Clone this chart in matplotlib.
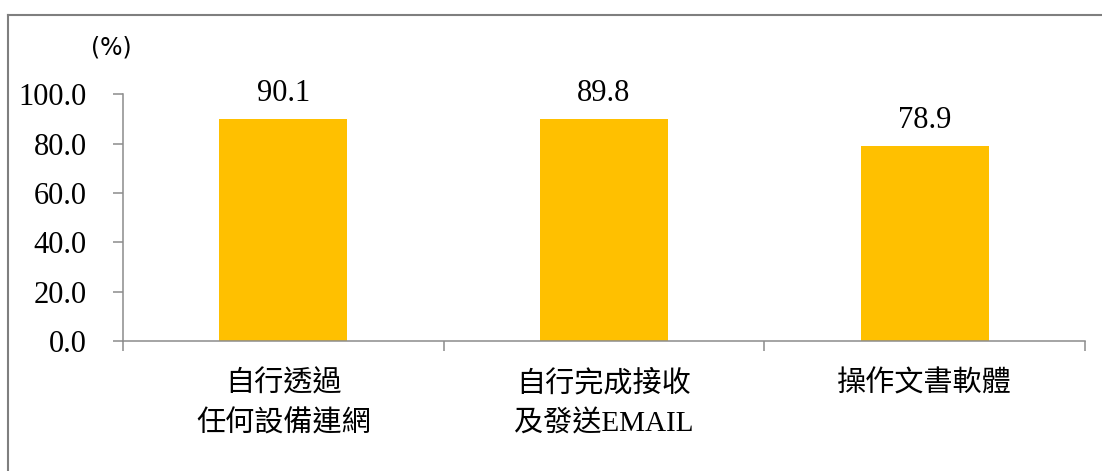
import matplotlib.pyplot as plt
from matplotlib.lines import Line2D

plt.rcParams['font.family'] = ['Liberation Serif', 'Noto Sans CJK TC']

categories = ["自行透過\n任何設備連網", "自行完成接收\n及發送EMAIL", "操作文書軟體"]
values = [90.1, 89.8, 78.9]
yticks = [0, 20, 40, 60, 80, 100]

fig = plt.figure(figsize=(11.02, 4.71), dpi=100)
ax = fig.add_axes([123/1102, 1-341/471, 962/1102, 246.7/471])

x = range(len(categories))
bars = ax.bar(x, values, width=0.4, color='#FFC000', zorder=2)

for xi, v in zip(x, values):
    ax.annotate("%.1f" % v, (xi, v), xytext=(0, 8), textcoords='offset points',
                ha='center', va='bottom', fontsize=22, annotation_clip=False)

ax.set_xlim(-0.5, 2.5)
ax.set_ylim(0, 100)
ax.set_yticks(yticks)
ax.set_yticklabels(["%.1f" % t for t in yticks], fontsize=22)

# category labels centred, ticks on the category borders
ax.set_xticks([-0.5, 0.5, 1.5, 2.5])
ax.set_xticklabels([])
ax.set_xticks(list(x), minor=True)
ax.set_xticklabels(categories, minor=True, fontsize=21, linespacing=1.6)
ax.tick_params(axis='x', which='minor', length=0, pad=21)
ax.tick_params(axis='x', which='major', length=7, width=1.1, color='#8C8C8C', direction='out')
ax.tick_params(axis='y', length=7, width=1.1, color='#8C8C8C', pad=19)

for s in ['top', 'right']:
    ax.spines[s].set_visible(False)
for s in ['left', 'bottom']:
    ax.spines[s].set_color('#8C8C8C')
    ax.spines[s].set_linewidth(1.1)

fig.text(111/1102, 1-47/471, "(%)", ha='center', va='center', fontsize=17, family='DejaVu Sans')

# outer chart border (left and top edges visible)
fig.add_artist(Line2D([8/1102, 8/1102], [0, 1-15/471], color='#7F7F7F', lw=1.5))
fig.add_artist(Line2D([8/1102, 1], [1-15/471, 1-15/471], color='#7F7F7F', lw=1.5))

fig.savefig('out.png', dpi=100)
